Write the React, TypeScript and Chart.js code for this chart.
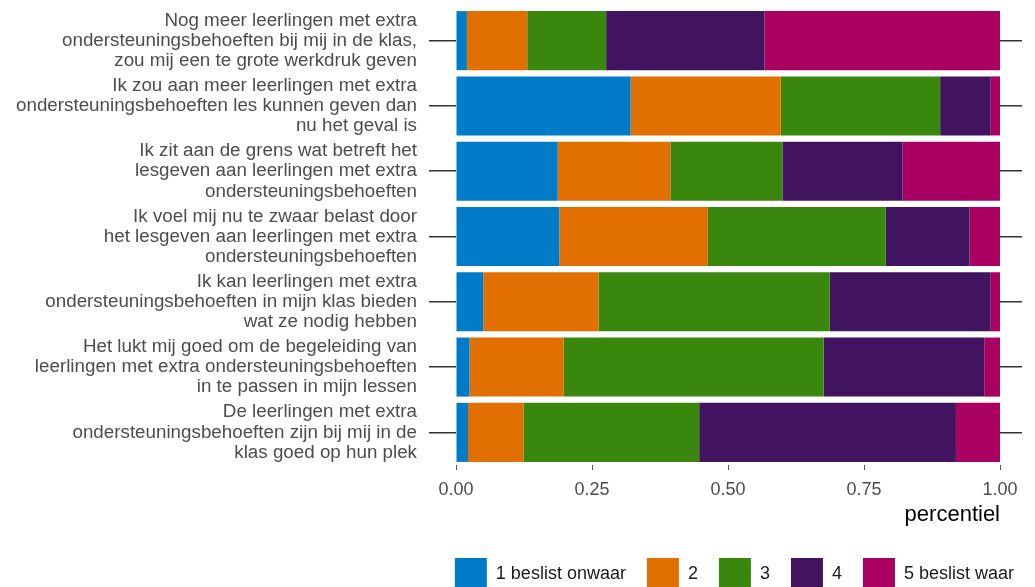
import React, { useEffect, useRef } from "react";
import { Chart, registerables } from "chart.js";

Chart.register(...registerables);

const categories: string[][] = [
  ["Nog meer leerlingen met extra", "ondersteuningsbehoeften bij mij in de klas,", "zou mij een te grote werkdruk geven"],
  ["Ik zou aan meer leerlingen met extra", "ondersteuningsbehoeften les kunnen geven dan", "nu het geval is"],
  ["Ik zit aan de grens wat betreft het", "lesgeven aan leerlingen met extra", "ondersteuningsbehoeften"],
  ["Ik voel mij nu te zwaar belast door", "het lesgeven aan leerlingen met extra", "ondersteuningsbehoeften"],
  ["Ik kan leerlingen met extra", "ondersteuningsbehoeften in mijn klas bieden", "wat ze nodig hebben"],
  ["Het lukt mij goed om de begeleiding van", "leerlingen met extra ondersteuningsbehoeften", "in te passen in mijn lessen"],
  ["De leerlingen met extra", "ondersteuningsbehoeften zijn bij mij in de", "klas goed op hun plek"],
];

const seriesNames = ["1 beslist onwaar", "2", "3", "4", "5 beslist waar"];
const seriesColors = ["#007BC7", "#E17000", "#39870C", "#42145F", "#A90061"];

const s1 = [0.020, 0.321, 0.187, 0.190, 0.050, 0.025, 0.022];
const s2 = [0.111, 0.276, 0.207, 0.273, 0.212, 0.173, 0.102];
const s3 = [0.145, 0.293, 0.206, 0.327, 0.425, 0.478, 0.323];
const s4 = [0.291, 0.093, 0.221, 0.154, 0.296, 0.295, 0.472];
const s5 = [0.433, 0.017, 0.179, 0.056, 0.017, 0.029, 0.081];

const xTicks = [0, 0.25, 0.5, 0.75, 1];

export default function App() {
  const ref = useRef<HTMLCanvasElement | null>(null);

  useEffect(() => {
    if (!ref.current) return;
    Chart.defaults.font.family = "'Liberation Sans', Arial, sans-serif";
    const values = [s1, s2, s3, s4, s5];
    const chart = new Chart(ref.current, {
      type: "bar",
      data: {
        labels: categories,
        datasets: values.map((v, i) => ({
          label: seriesNames[i],
          data: v,
          backgroundColor: seriesColors[i],
          borderWidth: 0,
          barPercentage: 0.905,
          categoryPercentage: 1,
        })),
      },
      options: {
        indexAxis: "y",
        responsive: false,
        animation: false,
        devicePixelRatio: 1,
        layout: { padding: { top: 8, left: 0, right: 0, bottom: 0 } },
        plugins: {
          tooltip: { enabled: false },
          legend: {
            position: "bottom",
            align: "end",
            labels: {
              boxWidth: 32,
              boxHeight: 32,
              padding: 21,
              color: "#1a1a1a",
              font: { size: 18 },
            },
          },
        },
        scales: {
          x: {
            type: "linear",
            stacked: true,
            min: 0,
            max: 1,
            afterBuildTicks: (s: any) => {
              s.ticks = xTicks.map((v) => ({ value: v }));
            },
            afterFit: (s: any) => {
              s.height = 72;
              s.paddingLeft = 0;
              s.paddingRight = 0;
            },
            border: { display: false },
            grid: {
              drawOnChartArea: false,
              drawTicks: true,
              tickLength: 5,
              color: "#555",
              lineWidth: 1,
            },
            ticks: {
              color: "#4d4d4d",
              font: { size: 18 },
              padding: 9,
              maxRotation: 0,
              callback: (v: any) => Number(v).toFixed(2),
            },
            title: {
              display: true,
              text: "percentiel",
              align: "end",
              color: "#000",
              font: { size: 22 },
              padding: { top: 4, bottom: 9 },
            },
          },
          y: {
            type: "category",
            stacked: true,
            offset: true,
            afterFit: (s: any) => {
              s.width = 456;
              s.paddingTop = 0;
              s.paddingBottom = 0;
            },
            border: { display: false },
            grid: {
              offset: false,
              drawOnChartArea: false,
              drawTicks: true,
              tickLength: 27,
              color: "#333",
              lineWidth: 1.5,
            },
            ticks: {
              color: "#4d4d4d",
              font: { size: 18.8, lineHeight: 1.07 },
              padding: 12,
              autoSkip: false,
            },
          },
          y2: {
            type: "category",
            position: "right",
            offset: true,
            afterFit: (s: any) => {
              s.width = 35;
              s.paddingTop = 0;
              s.paddingBottom = 0;
            },
            border: { display: false },
            grid: {
              offset: false,
              drawOnChartArea: false,
              drawTicks: true,
              tickLength: 22,
              color: "#333",
              lineWidth: 1.5,
            },
            ticks: { display: false, autoSkip: false },
          },
        },
      },
    });
    return () => chart.destroy();
  }, []);

  return (
    <div
      style={{
        position: "fixed",
        left: 0,
        top: 0,
        width: 1035,
        height: 587,
        overflow: "hidden",
        background: "#fff",
      }}
    >
      <canvas ref={ref} width={1035} height={600} style={{ display: "block" }} />
    </div>
  );
}
